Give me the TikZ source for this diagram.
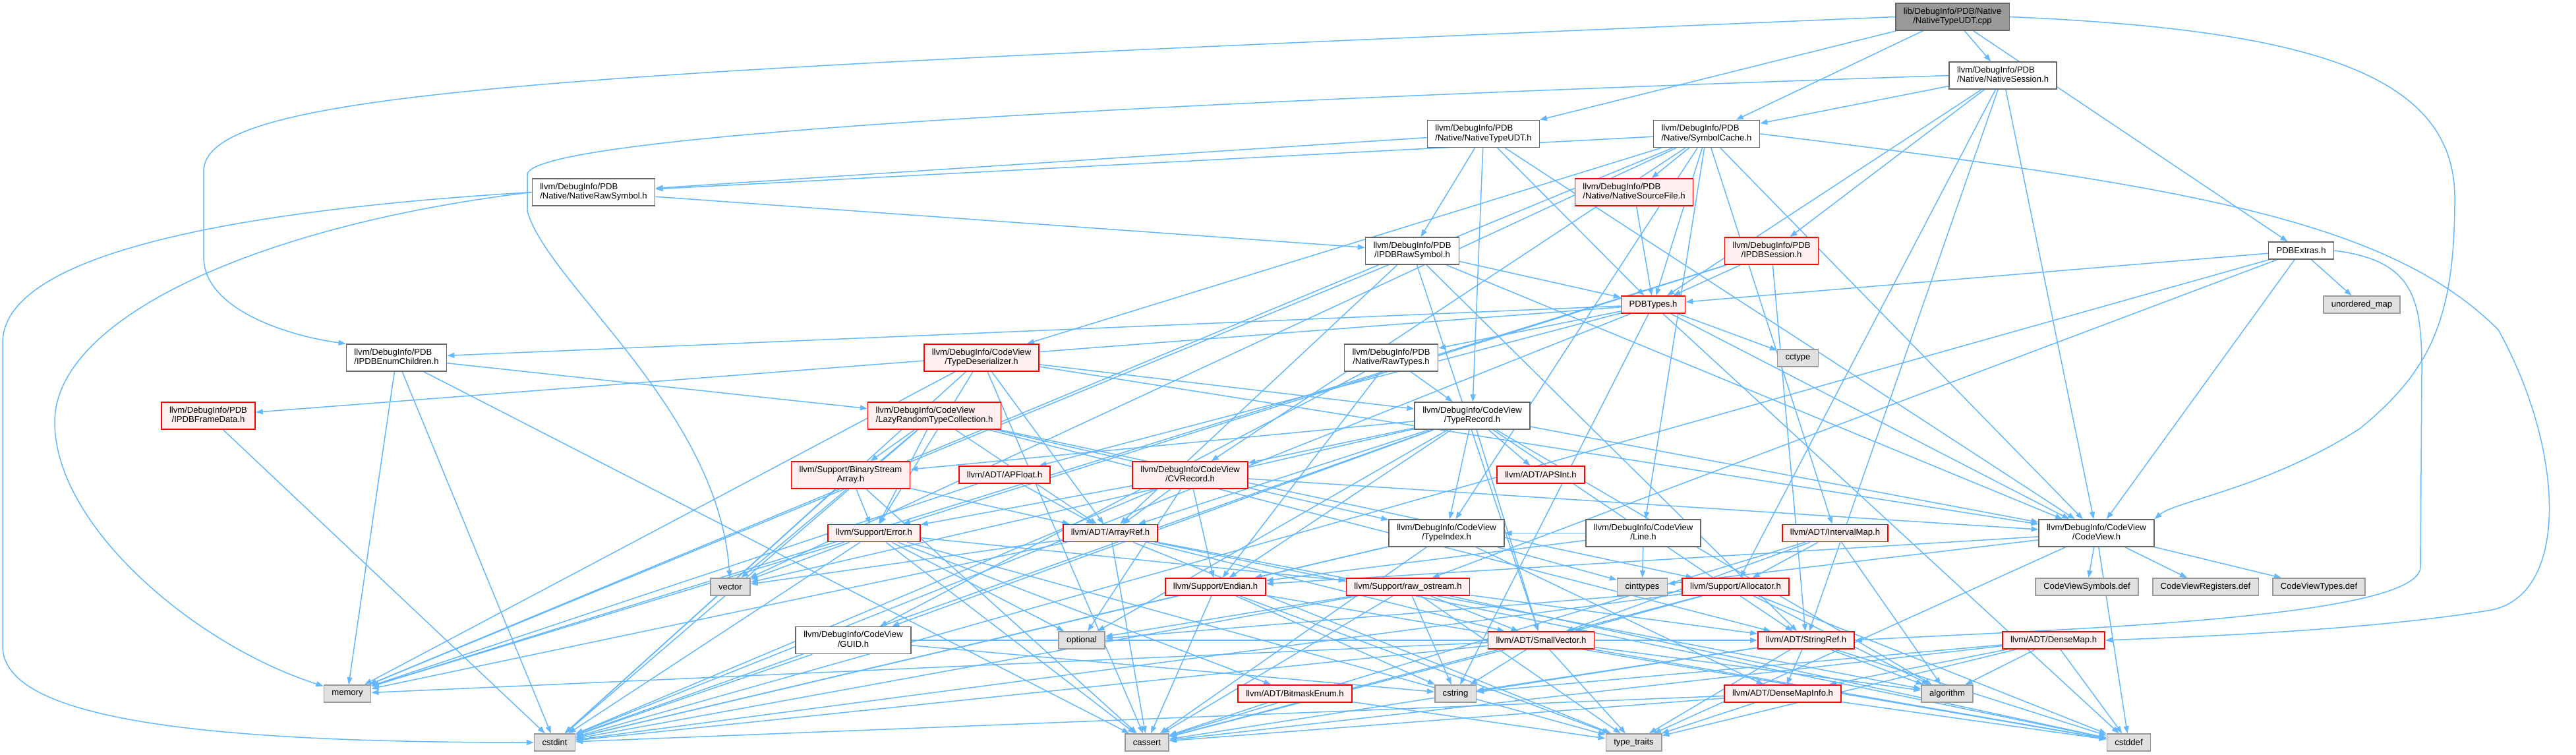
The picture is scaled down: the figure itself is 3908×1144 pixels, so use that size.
\documentclass[tikz,border=0pt]{standalone}
\usepackage{fontspec}
\setmainfont{Liberation Sans}
\usepackage{tikz}
\usepackage{xcolor}
\usetikzlibrary{arrows.meta}

\definecolor{edgeblue}{HTML}{63B8FF}
\definecolor{truncfill}{HTML}{FFF0F0}
\definecolor{extfill}{HTML}{E0E0E0}
\definecolor{rootfill}{HTML}{999999}

\pgfdeclarelayer{bg}
\pgfsetlayers{bg,main}

\tikzset{
  box/.style={draw=black!60, line width=1.6pt, fill=white, inner xsep=12pt, inner ysep=6pt, minimum height=26pt},
  hdr/.style={box},
  trunc/.style={box, draw=red, fill=truncfill},
  ext/.style={box, draw=black!40, fill=extfill},
  srcfile/.style={box, draw=black!60, fill=rootfill},
  edge/.style={->, draw=edgeblue, line width=1.5pt}
}

\newcommand{\twolbl}[2]{\begin{tabular}{@{}l@{}}#1\\\multicolumn{1}{@{}c@{}}{#2}\end{tabular}}

\begin{document}
\begin{tikzpicture}[x=1pt, y=-1pt, >={Triangle[length=11pt,width=8pt]},
    font=\fontsize{13.1}{14.5}\selectfont]
  \useasboundingbox (0,0) rectangle (3908,1144);
  % top rows
  \node[srcfile] (root) at (2962,25.5) {\twolbl{lib/DebugInfo/PDB/Native}{/NativeTypeUDT.cpp}};
  \node[hdr] (sessh) at (3038.5,114.5) {\twolbl{llvm/DebugInfo/PDB}{/Native/NativeSession.h}};
  \node[hdr] (udth) at (2250.5,203) {\twolbl{llvm/DebugInfo/PDB}{/Native/NativeTypeUDT.h}};
  \node[hdr] (symcache) at (2589,203) {\twolbl{llvm/DebugInfo/PDB}{/Native/SymbolCache.h}};
  \node[hdr] (rawsym) at (900.5,291.5) {\twolbl{llvm/DebugInfo/PDB}{/Native/NativeRawSymbol.h}};
  \node[trunc] (srcfileh) at (2479,291.5) {\twolbl{llvm/DebugInfo/PDB}{/Native/NativeSourceFile.h}};
  \node[hdr] (irawsym) at (2142.5,380.5) {\twolbl{llvm/DebugInfo/PDB}{/IPDBRawSymbol.h}};
  \node[trunc] (isession) at (2687.5,380.5) {\twolbl{llvm/DebugInfo/PDB}{/IPDBSession.h}};
  \node[hdr] (extras) at (3491,380) {PDBExtras.h};
  \node[trunc] (pdbtypes) at (2508,462) {PDBTypes.h};
  \node[ext] (umap) at (3583,462) {unordered\_map};
  % middle rows
  \node[hdr] (ienum) at (601.5,542.5) {\twolbl{llvm/DebugInfo/PDB}{/IPDBEnumChildren.h}};
  \node[trunc] (tdeser) at (1489,542.5) {\twolbl{llvm/DebugInfo/CodeView}{/TypeDeserializer.h}};
  \node[hdr] (rawtypes) at (2110.5,542.5) {\twolbl{llvm/DebugInfo/PDB}{/Native/RawTypes.h}};
  \node[ext] (cctype) at (2727.5,543) {cctype};
  \node[trunc] (iframe) at (316,630.5) {\twolbl{llvm/DebugInfo/PDB}{/IPDBFrameData.h}};
  \node[trunc] (lazycoll) at (1417.5,630.5) {\twolbl{llvm/DebugInfo/CodeView}{/LazyRandomTypeCollection.h}};
  \node[hdr] (trecord) at (2233.5,630.5) {\twolbl{llvm/DebugInfo/CodeView}{/TypeRecord.h}};
  \node[trunc] (bsarray) at (1290.5,720.5) {\twolbl{llvm/Support/BinaryStream}{Array.h}};
  \node[trunc] (apfloat) at (1524,720) {llvm/ADT/APFloat.h};
  \node[trunc] (cvrecord) at (1805.5,720.5) {\twolbl{llvm/DebugInfo/CodeView}{/CVRecord.h}};
  \node[trunc] (apsint) at (2337.5,720) {llvm/ADT/APSInt.h};
  \node[trunc] (errorh) at (1326,808.5) {llvm/Support/Error.h};
  \node[trunc] (arrayref) at (1684.5,808.5) {llvm/ADT/ArrayRef.h};
  \node[hdr] (tindex) at (2194.5,808.5) {\twolbl{llvm/DebugInfo/CodeView}{/TypeIndex.h}};
  \node[hdr] (lineh) at (2493,808.5) {\twolbl{llvm/DebugInfo/CodeView}{/Line.h}};
  \node[trunc] (imap) at (2784,808.5) {llvm/ADT/IntervalMap.h};
  \node[hdr] (codeview) at (3180.5,808.5) {\twolbl{llvm/DebugInfo/CodeView}{/CodeView.h}};
  % lower rows
  \node[ext] (vectorh) at (1108,890) {vector};
  \node[trunc] (endian) at (1844,890) {llvm/Support/Endian.h};
  \node[trunc] (rawos) at (2136,890) {llvm/Support/raw\_ostream.h};
  \node[ext] (cinttypes) at (2491.5,890) {cinttypes};
  \node[trunc] (allocator) at (2633,890) {llvm/Support/Allocator.h};
  \node[ext] (cvsyms) at (3166,890) {CodeViewSymbols.def};
  \node[ext] (cvregs) at (3346,890) {CodeViewRegisters.def};
  \node[ext] (cvtypes) at (3518,890) {CodeViewTypes.def};
  \node[hdr] (guid) at (1294.5,971) {\twolbl{llvm/DebugInfo/CodeView}{/GUID.h}};
  \node[ext] (optionalh) at (1641,971) {optional};
  \node[trunc] (smallvec) at (2338,971) {llvm/ADT/SmallVector.h};
  \node[trunc] (stringref) at (2740,971) {llvm/ADT/StringRef.h};
  \node[trunc] (densemap) at (3115.5,971) {llvm/ADT/DenseMap.h};
  \node[ext] (memoryh) at (527,1052) {memory};
  \node[trunc] (bitmask) at (1964.5,1052) {llvm/ADT/BitmaskEnum.h};
  \node[ext] (cstringh) at (2208,1052) {cstring};
  \node[trunc] (dminfo) at (2704.5,1052) {llvm/ADT/DenseMapInfo.h};
  \node[ext] (algorithmh) at (2954,1052) {algorithm};
  \node[ext] (cstdint) at (841.5,1126) {cstdint};
  \node[ext] (cassert) at (1740,1126) {cassert};
  \node[ext] (typetraits) at (2478.5,1126) {type\_traits};
  \node[ext] (cstddef) at (3229.5,1126) {cstddef};
  % include edges
  \begin{pgfonlayer}{bg}
  \foreach \s/\ts in {
      root/{udth,sessh,symcache,extras},
      udth/{rawsym,irawsym,pdbtypes,codeview,trecord},
      sessh/{symcache,isession,pdbtypes,codeview,allocator,stringref},
      symcache/{rawsym,srcfileh,pdbtypes,tdeser,cvrecord,lineh,tindex,codeview,imap,memoryh,vectorh},
      extras/{pdbtypes,umap,codeview,rawos,cstdint},
      rawsym/{irawsym},
      srcfileh/{pdbtypes},
      irawsym/{pdbtypes,codeview,arrayref,smallvec,stringref,memoryh},
      isession/{pdbtypes,stringref,errorh,memoryh},
      pdbtypes/{ienum,iframe,rawtypes,apfloat,codeview,cctype,cstddef,cstdint,cstringh},
      ienum/{lazycoll,memoryh,cstdint,cassert},
      tdeser/{arrayref,codeview,trecord,errorh,cassert,cstdint,memoryh},
      rawtypes/{guid,trecord,endian},
      iframe/{cstdint},
      lazycoll/{arrayref,stringref,tindex,allocator,bsarray,errorh,cstdint,vectorh},
      bsarray/{arrayref,errorh,cassert,cstdint},
      apfloat/{arrayref,memoryh},
      cvrecord/{arrayref,codeview,endian,errorh,optionalh,cstdint},
      trecord/{apsint,arrayref,smallvec,stringref,cvrecord,codeview,guid,tindex,bsarray,endian,algorithmh,cstdint,optionalh,vectorh},
      errorh/{rawos,optionalh,bitmask,cassert,cstdint,memoryh,typetraits,vectorh},
      arrayref/{smallvec,algorithmh,cassert,cstddef,memoryh,typetraits,vectorh},
      tindex/{dminfo,endian,cassert,cinttypes,cstdint},
      lineh/{tindex,endian,cinttypes},
      codeview/{cvsyms,cvregs,cvtypes,endian,cinttypes,typetraits,cstddef},
      imap/{smallvec,allocator,algorithmh,cassert},
      endian/{cassert,cstddef,cstdint,cstringh,typetraits},
      rawos/{smallvec,stringref,cassert,cstddef,cstdint,cstringh,optionalh,typetraits},
      allocator/{smallvec,algorithmh,cassert,cstddef,cstdint,optionalh},
      guid/{stringref,cstdint,cstringh},
      smallvec/{algorithmh,cassert,cstddef,cstdint,cstringh,memoryh,typetraits},
      stringref/{dminfo,algorithmh,cassert,cstddef,cstringh,typetraits},
      densemap/{dminfo,algorithmh,cassert,cstddef,cstringh,typetraits},
      dminfo/{cassert,cstddef,cstdint,typetraits},
      bitmask/{cassert,typetraits}}{
    \foreach \t in \ts
      \draw[edge] (\s) -- (\t);
  }
  % long routed edges
  \draw[edge] (root.west) .. controls (900,110) and (309,130) .. (309,260)
    -- (309,390) .. controls (309,470) and (440,510) .. (ienum.north west);
  \draw[edge] (root.east) .. controls (3500,45) and (3724,110) .. (3724,300)
    .. controls (3724,480) and (3690,560) .. (3580,650)
    .. controls (3440,740) and (3300,760) .. (codeview.north east);
  \draw[edge] (rawsym.west) .. controls (500,310) and (4,360) .. (4,520)
    -- (4,980) .. controls (4,1090) and (300,1126) .. (cstdint.west);
  \draw[edge] (rawsym.west) .. controls (400,340) and (83,480) .. (83,640)
    .. controls (83,800) and (300,980) .. (memoryh);
  \draw[edge] (sessh.west) .. controls (1900,150) and (800,200) .. (800,265)
    -- (800,320) .. controls (830,430) and (1090,620) .. (vectorh);
  \draw[edge] (extras.east) .. controls (3660,395) and (3674,450) .. (3674,560)
    -- (3672,860) .. controls (3670,940) and (3100,955) .. (stringref.east);
  \draw[edge] (symcache.east) .. controls (3300,280) and (3620,330) .. (3790,500)
    .. controls (3890,680) and (3900,900) .. (3780,925)
    .. controls (3600,955) and (3350,965) .. (densemap.east);
  \end{pgfonlayer}
\end{tikzpicture}
\end{document}
